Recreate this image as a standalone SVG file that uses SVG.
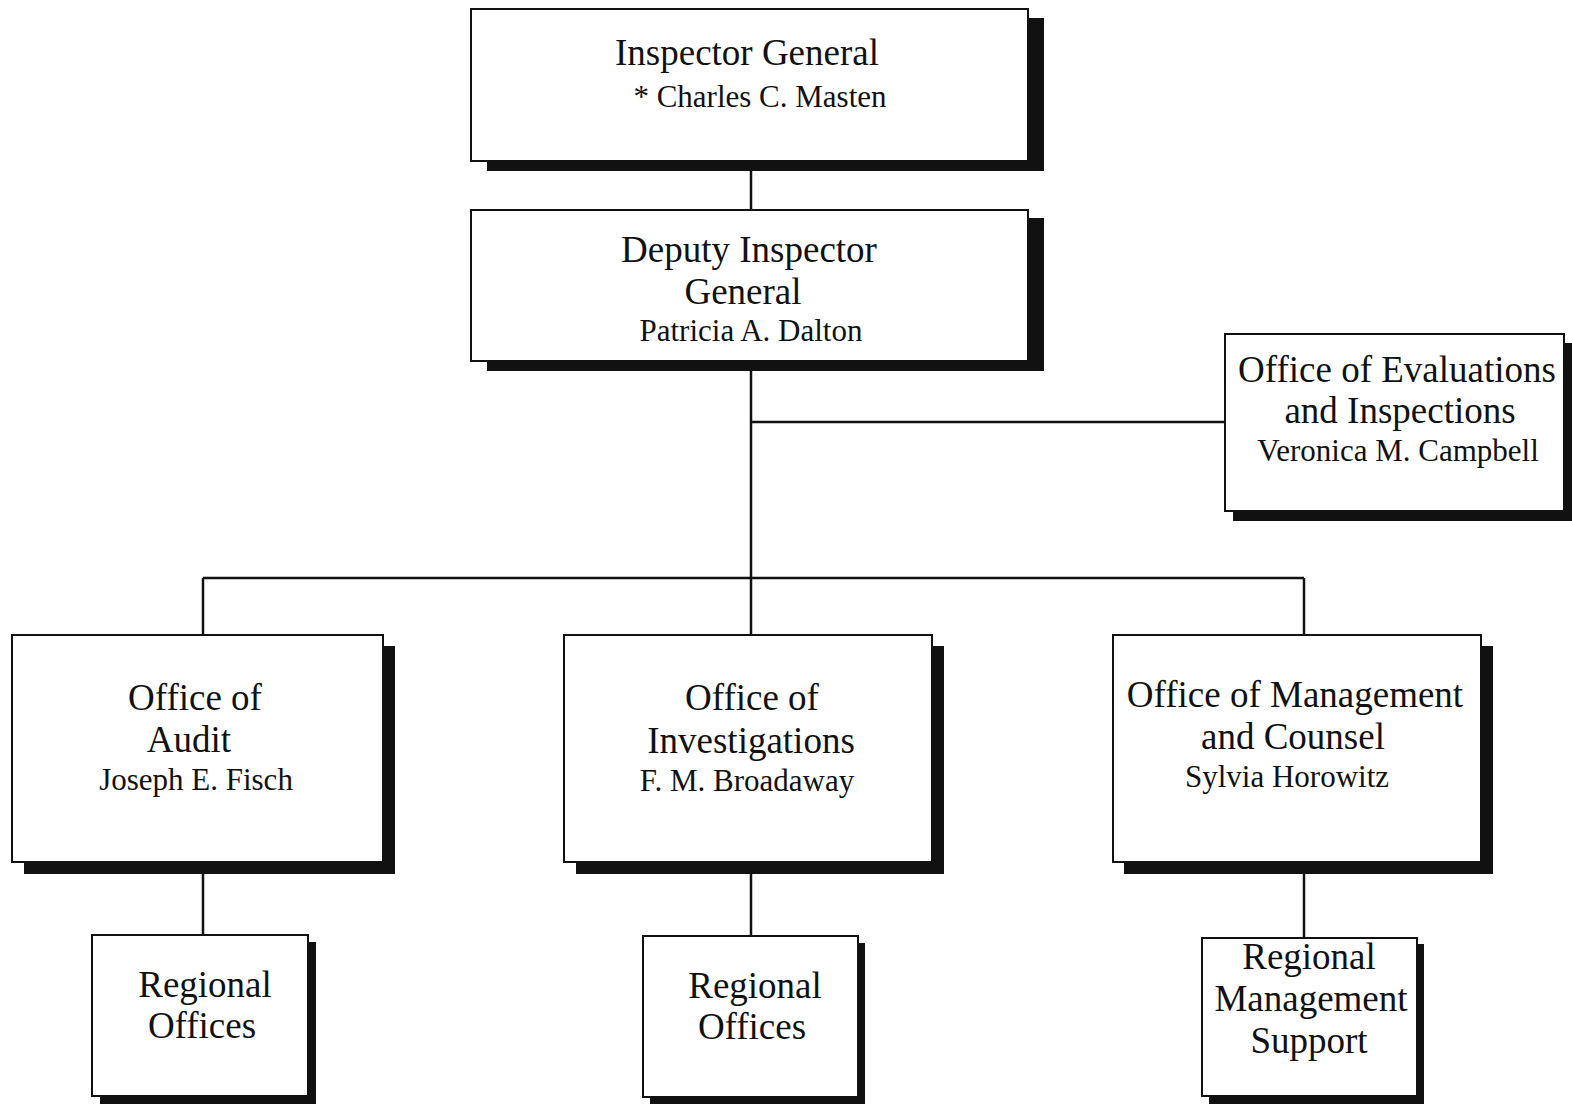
<svg xmlns="http://www.w3.org/2000/svg" width="1572" height="1104" viewBox="0 0 1572 1104">
<style>
.box{fill:#fff;stroke:#111;stroke-width:2}
.sh{fill:#111}
.t{font-family:"Liberation Serif","Times New Roman",serif;font-size:37px;fill:#111;text-anchor:middle}
.n{font-family:"Liberation Serif","Times New Roman",serif;font-size:31px;fill:#111;text-anchor:middle}
.c{stroke:#111;stroke-width:2.5;fill:none}
</style>
<rect width="1572" height="1104" fill="#fff"/>
<g id="connectors">
<line class="c" x1="751" y1="160" x2="751" y2="210"/>
<line class="c" x1="751" y1="361" x2="751" y2="635"/>
<line class="c" x1="751" y1="422" x2="1225" y2="422"/>
<line class="c" x1="203" y1="578" x2="1304" y2="578"/>
<line class="c" x1="203" y1="578" x2="203" y2="635"/>
<line class="c" x1="1304" y1="578" x2="1304" y2="635"/>
<line class="c" x1="203" y1="872" x2="203" y2="935"/>
<line class="c" x1="751" y1="872" x2="751" y2="936"/>
<line class="c" x1="1304" y1="872" x2="1304" y2="938"/>
</g>
<g id="inspector-general">
<rect class="sh" x="487" y="18" width="557" height="153"/>
<rect class="box" x="471" y="9" width="557" height="152"/>
<text class="t" x="747" y="65">Inspector General</text>
<text class="n" x="760" y="107">* Charles C. Masten</text>
</g>
<g id="deputy-inspector-general">
<rect class="sh" x="487" y="218" width="557" height="153"/>
<rect class="box" x="471" y="210" width="557" height="151"/>
<text class="t" x="749" y="262">Deputy Inspector</text>
<text class="t" x="743" y="304">General</text>
<text class="n" x="751" y="341">Patricia A. Dalton</text>
</g>
<g id="office-evaluations">
<rect class="sh" x="1233" y="343" width="339" height="178"/>
<rect class="box" x="1225" y="334" width="339" height="177"/>
<text class="t" x="1397" y="382">Office of Evaluations</text>
<text class="t" x="1400" y="423">and Inspections</text>
<text class="n" x="1398" y="461">Veronica M. Campbell</text>
</g>
<g id="office-audit">
<rect class="sh" x="24" y="646" width="371" height="228"/>
<rect class="box" x="12" y="635" width="371" height="227"/>
<text class="t" x="195" y="710">Office of</text>
<text class="t" x="189" y="752">Audit</text>
<text class="n" x="196" y="790">Joseph E. Fisch</text>
</g>
<g id="office-investigations">
<rect class="sh" x="576" y="646" width="368" height="228"/>
<rect class="box" x="564" y="635" width="368" height="227"/>
<text class="t" x="752" y="710">Office of</text>
<text class="t" x="751" y="753">Investigations</text>
<text class="n" x="747" y="791">F. M. Broadaway</text>
</g>
<g id="office-management">
<rect class="sh" x="1124" y="646" width="369" height="228"/>
<rect class="box" x="1113" y="635" width="368" height="227"/>
<text class="t" x="1295" y="707">Office of Management</text>
<text class="t" x="1293" y="749">and Counsel</text>
<text class="n" x="1287" y="787">Sylvia Horowitz</text>
</g>
<g id="regional-offices-audit">
<rect class="sh" x="100" y="942" width="216" height="162"/>
<rect class="box" x="92" y="935" width="216" height="161"/>
<text class="t" x="205" y="997">Regional</text>
<text class="t" x="202" y="1038">Offices</text>
</g>
<g id="regional-offices-investigations">
<rect class="sh" x="650" y="943" width="215" height="162"/>
<rect class="box" x="643" y="936" width="215" height="161"/>
<text class="t" x="755" y="998">Regional</text>
<text class="t" x="752" y="1039">Offices</text>
</g>
<g id="regional-management-support">
<rect class="sh" x="1209" y="944" width="215" height="160"/>
<rect class="box" x="1202" y="938" width="215" height="158"/>
<text class="t" x="1309" y="969">Regional</text>
<text class="t" x="1311" y="1011">Management</text>
<text class="t" x="1309" y="1053">Support</text>
</g>
</svg>
